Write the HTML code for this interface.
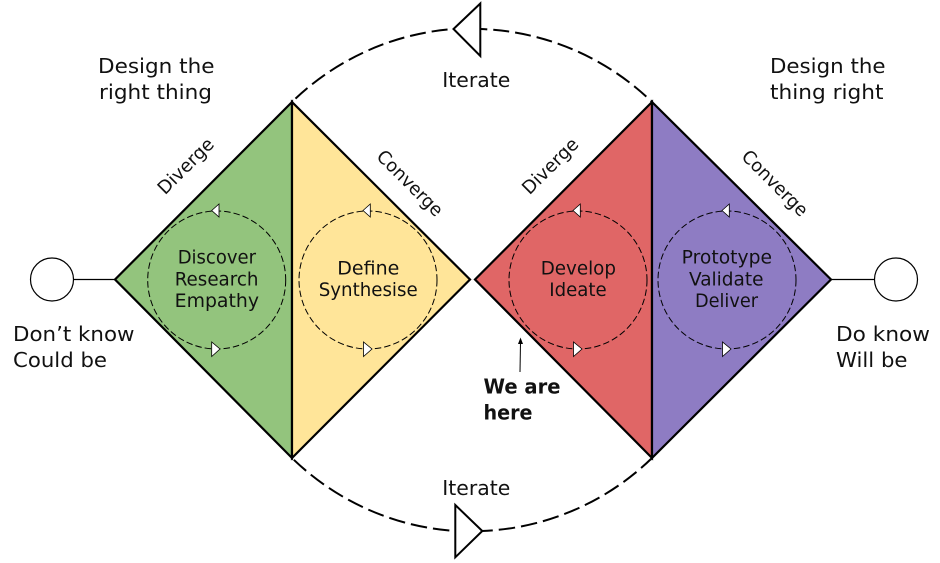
<!DOCTYPE html>
<html><head><meta charset="utf-8"><style>
html,body{margin:0;padding:0;background:#fff}
svg{display:block}
text{font-family:"DejaVu Sans","Liberation Sans",sans-serif;fill:#111}
.t{font-size:20.5px}.l{font-size:18.3px}
</style></head><body>
<svg width="940" height="563" viewBox="0 0 940 563" xmlns="http://www.w3.org/2000/svg">
<rect width="940" height="563" fill="#fff"/>
<g fill="none" stroke="#000" stroke-width="2">
<path d="M480.300 29A258.400 258.400 0 0 1 652 102" stroke-dasharray="16 6" stroke-dashoffset="9"/>
<path d="M453.500 29A258.400 258.400 0 0 0 292 102" stroke-dasharray="16 6" stroke-dashoffset="16"/>
<path d="M482.300 531A258.400 258.400 0 0 0 652 458" stroke-dasharray="16.500 6" stroke-dashoffset="6"/>
<path d="M455.300 531A258.400 258.400 0 0 1 292 458" stroke-dasharray="16.500 6" stroke-dashoffset="16.500"/>
</g>
<g fill="#fff" stroke="#000" stroke-width="2" stroke-linejoin="miter">
<polygon points="453.500,29 480.300,3.500 480.300,56"/>
<polygon points="455.300,505 455.300,557.300 482.300,531"/>
</g>
<g fill="#fff" stroke="#000" stroke-width="1.200">
<circle cx="52" cy="279.500" r="21.500"/><circle cx="896" cy="279.500" r="21.500"/>
<path d="M73.500 279.500H115M831 279.500H874.500" fill="none"/>
</g>
<g stroke="#000" stroke-width="2.200" stroke-linejoin="miter">
<polygon points="292,102 115,279.500 292,458" fill="#93c47d"/>
<polygon points="292,102 470,279.500 292,458" fill="#ffe599"/>
<polygon points="652,102 475,279.500 652,458" fill="#e06666"/>
<polygon points="652,102 831,279.500 652,458" fill="#8e7cc3"/>
</g>
<g fill="none" stroke="#000" stroke-width="1" stroke-dasharray="6.500 3">
<circle cx="216.700" cy="280" r="69"/><circle cx="368" cy="280" r="69"/>
<circle cx="578" cy="280" r="69"/><circle cx="727" cy="280" r="69"/>
</g>
<g fill="#fff" stroke="#000" stroke-width=".8">
<polygon points="211.700,210.500 219,204 219,217"/><polygon points="211.700,342 211.700,356.500 220,349"/>
<polygon points="363,210.500 370.300,204 370.300,217"/><polygon points="363.500,342 363.500,356.500 372,349"/>
<polygon points="573,210.500 580.300,204 580.300,217"/><polygon points="573.500,342 573.500,356.500 582,349"/>
<polygon points="722,210.500 729.300,204 729.300,217"/><polygon points="722.500,342 722.500,356.500 731,349"/>
</g>
<path d="M520 372L520.500 342" stroke="#000" stroke-width="1"/>
<polygon points="520.500,337.500 518,344 523,344" fill="#000"/>

<text class="t" x="98" y="73" textLength="116.500" lengthAdjust="spacingAndGlyphs">Design the</text>
<text class="t" x="99" y="99" textLength="113" lengthAdjust="spacingAndGlyphs">right thing</text>
<text class="t" x="770" y="73" textLength="115.500" lengthAdjust="spacingAndGlyphs">Design the</text>
<text class="t" x="770" y="99" textLength="113.500" lengthAdjust="spacingAndGlyphs">thing right</text>
<text class="t" x="442.300" y="87" textLength="68" lengthAdjust="spacingAndGlyphs">Iterate</text>
<text class="t" x="442.300" y="495" textLength="68" lengthAdjust="spacingAndGlyphs">Iterate</text>
<text class="t" x="13" y="341" textLength="121.500" lengthAdjust="spacingAndGlyphs">Don’t know</text>
<text class="t" x="13" y="367" textLength="94" lengthAdjust="spacingAndGlyphs">Could be</text>
<text class="t" x="836" y="341" textLength="94" lengthAdjust="spacingAndGlyphs">Do know</text>
<text class="t" x="836" y="367" textLength="71.500" lengthAdjust="spacingAndGlyphs">Will be</text>
<text class="t" style="font-weight:bold" x="483.500" y="393.500" textLength="77" lengthAdjust="spacingAndGlyphs">We are</text>
<text class="t" style="font-weight:bold" x="483.500" y="419.500" textLength="49" lengthAdjust="spacingAndGlyphs">here</text>

<text class="l" x="177.700" y="263.500" textLength="78.300" lengthAdjust="spacingAndGlyphs">Discover</text>
<text class="l" x="174.700" y="285.500" textLength="83.800" lengthAdjust="spacingAndGlyphs">Research</text>
<text class="l" x="174.700" y="307" textLength="84.300" lengthAdjust="spacingAndGlyphs">Empathy</text>
<text class="l" x="337.300" y="274.500" textLength="62" lengthAdjust="spacingAndGlyphs">Define</text>
<text class="l" x="318.700" y="296" textLength="99" lengthAdjust="spacingAndGlyphs">Synthesise</text>
<text class="l" x="540.700" y="274.500" textLength="75.300" lengthAdjust="spacingAndGlyphs">Develop</text>
<text class="l" x="549.300" y="296" textLength="57.400" lengthAdjust="spacingAndGlyphs">Ideate</text>
<text class="l" x="681.700" y="263.500" textLength="90.300" lengthAdjust="spacingAndGlyphs">Prototype</text>
<text class="l" x="689" y="285.500" textLength="74.500" lengthAdjust="spacingAndGlyphs">Validate</text>
<text class="l" x="695" y="307" textLength="63" lengthAdjust="spacingAndGlyphs">Deliver</text>

<text class="l" transform="translate(165 195.500) rotate(-45)" textLength="71" lengthAdjust="spacingAndGlyphs">Diverge</text>
<text class="l" transform="translate(529.500 195.500) rotate(-45)" textLength="71" lengthAdjust="spacingAndGlyphs">Diverge</text>
<text class="l" transform="translate(375.500 157.500) rotate(45)" textLength="85" lengthAdjust="spacingAndGlyphs">Converge</text>
<text class="l" transform="translate(740.500 157.500) rotate(45)" textLength="85" lengthAdjust="spacingAndGlyphs">Converge</text>
</svg>
</body></html>
